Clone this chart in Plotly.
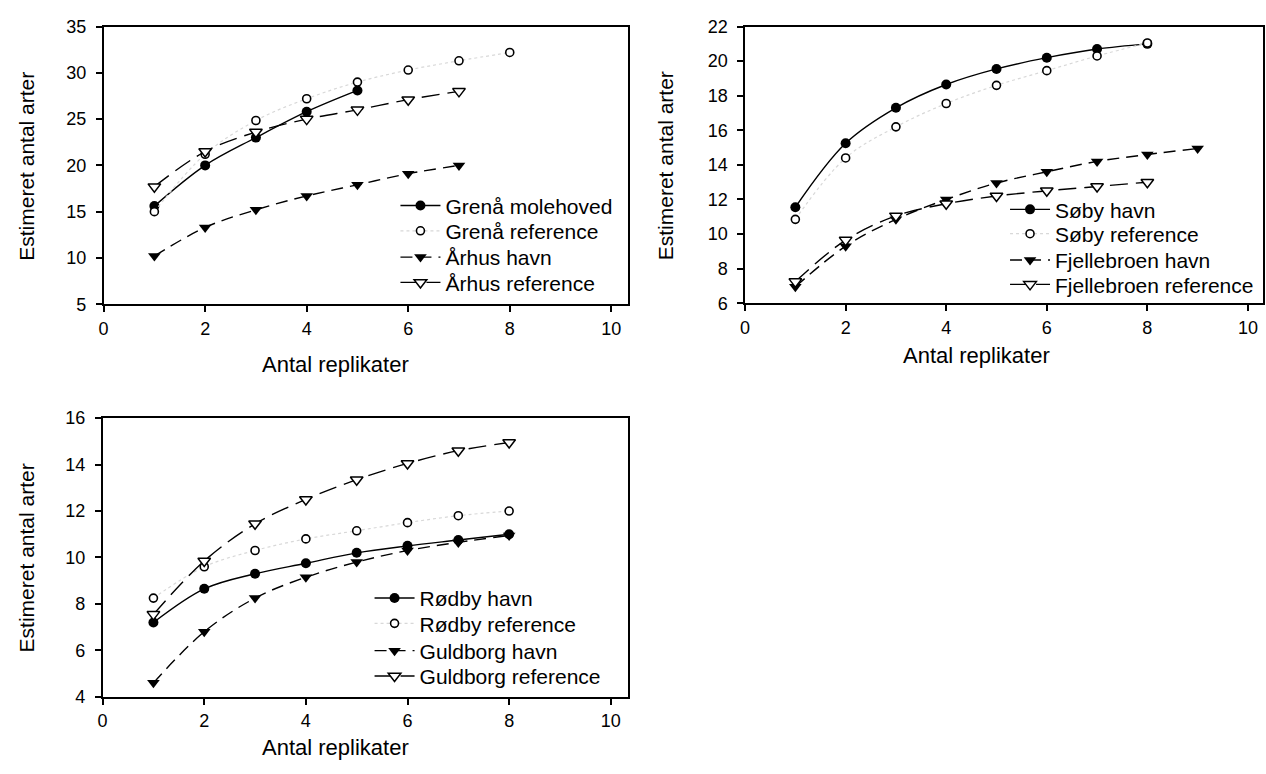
import plotly.graph_objects as go

# ---------------- data ----------------
rep5 = [1, 2, 3, 4, 5]
rep7 = [1, 2, 3, 4, 5, 6, 7]
rep8 = [1, 2, 3, 4, 5, 6, 7, 8]
rep9 = [1, 2, 3, 4, 5, 6, 7, 8, 9]

# Panel 1
grena_mole = [15.6, 20.0, 23.0, 25.8, 28.1]
grena_ref = [15.0, 21.2, 24.85, 27.2, 29.0, 30.3, 31.3, 32.2]
arhus_havn = [10.2, 13.3, 15.2, 16.7, 17.9, 19.1, 20.0]
arhus_ref = [17.7, 21.5, 23.6, 25.0, 26.0, 27.1, 28.0]

# Panel 2
soby_havn = [11.55, 15.25, 17.3, 18.65, 19.55, 20.2, 20.7, 21.0]
soby_ref = [10.85, 14.4, 16.2, 17.55, 18.6, 19.45, 20.3, 21.05]
fjelle_havn = [6.95, 9.3, 10.85, 12.0, 12.95, 13.6, 14.2, 14.6, 14.95]
fjelle_ref = [7.25, 9.65, 11.05, 11.75, 12.2, 12.5, 12.75, 13.0]

# Panel 3
rodby_havn = [7.2, 8.65, 9.3, 9.75, 10.2, 10.5, 10.75, 11.0]
rodby_ref = [8.25, 9.6, 10.3, 10.8, 11.15, 11.5, 11.8, 12.0]
guld_havn = [4.6, 6.8, 8.25, 9.15, 9.8, 10.3, 10.65, 10.95]
guld_ref = [7.55, 9.85, 11.45, 12.5, 13.35, 14.05, 14.6, 14.95]

x_title = "Antal replikater"
y_title = "Estimeret antal arter"

FONT = "Liberation Sans, Arial, Helvetica, sans-serif"
W, H = 1266, 774

fig = go.Figure()

legend_slots = []  # (legend id, text-left px, row-center px)


def add(xs, ys, name, kind, xa, ya, lid):
    if kind == "solid":
        line = dict(color="black", width=1.4, dash="solid", shape="spline")
        marker = dict(symbol="circle", size=10, color="black")
    elif kind == "dotted":
        line = dict(color="#d8d8d8", width=1.2, dash="dot", shape="spline")
        marker = dict(symbol="circle", size=8, color="white",
                      line=dict(color="black", width=1.6))
    elif kind == "dash":
        line = dict(color="black", width=1.4, dash="12px,7px", shape="spline")
        marker = dict(symbol="triangle-down", size=11, color="black")
    else:  # longdash
        line = dict(color="black", width=1.4, dash="18px,8px", shape="spline")
        marker = dict(symbol="triangle-down", size=11, color="white",
                      line=dict(color="black", width=1.5))
    fig.add_trace(go.Scatter(x=xs, y=ys, name=name, mode="lines+markers",
                             line=line, marker=marker, xaxis=xa, yaxis=ya,
                             legend=lid, showlegend=True, cliponaxis=False))


series = [
    # panel 1
    (rep5, grena_mole, "Grenå molehoved", "solid", "x", "y"),
    (rep8, grena_ref, "Grenå reference", "dotted", "x", "y"),
    (rep7, arhus_havn, "Århus havn", "dash", "x", "y"),
    (rep7, arhus_ref, "Århus reference", "longdash", "x", "y"),
    # panel 2
    (rep8, soby_havn, "Søby havn", "solid", "x2", "y2"),
    (rep8, soby_ref, "Søby reference", "dotted", "x2", "y2"),
    (rep9, fjelle_havn, "Fjellebroen havn", "dash", "x2", "y2"),
    (rep8, fjelle_ref, "Fjellebroen reference", "longdash", "x2", "y2"),
    # panel 3
    (rep8, rodby_havn, "Rødby havn", "solid", "x3", "y3"),
    (rep8, rodby_ref, "Rødby reference", "dotted", "x3", "y3"),
    (rep8, guld_havn, "Guldborg havn", "dash", "x3", "y3"),
    (rep8, guld_ref, "Guldborg reference", "longdash", "x3", "y3"),
]

# legend text-left x and row centres (pixels) per panel
legend_x = [446, 1058, 420]
legend_rows = [[201, 227, 254, 280], [205, 230, 257, 282], [604, 630, 658, 684]]

for i, (xs, ys, name, kind, xa, ya) in enumerate(series):
    lid = "legend" if i == 0 else f"legend{i + 1}"
    add(xs, ys, name, kind, xa, ya, lid)
    legend_slots.append((lid, legend_x[i // 4], legend_rows[i // 4][i % 4]))


def xd(a, b):
    return [a / W, b / W]


def yd(top, bottom):
    return [1 - bottom / H, 1 - top / H]


axis_common = dict(showline=True, linecolor="black", linewidth=1.5, mirror=True,
                   ticks="outside", ticklen=6, tickwidth=1.5, tickcolor="black",
                   showgrid=False, zeroline=False,
                   tickfont=dict(family=FONT, size=18, color="black"))

panels = [
    ("xaxis", "yaxis", (99, 625), (17, 302), [0, 10.32], [5, 35], 5, "y", "x"),
    ("xaxis2", "yaxis2", (743, 1263), (17, 301), [0, 10.3], [6, 22], 2, "y2", "x2"),
    ("xaxis3", "yaxis3", (98, 625), (419, 705), [0, 10.33], [4, 16], 2, "y3", "x3"),
]

layout = dict(width=W, height=H, margin=dict(l=0, r=0, t=0, b=0),
              paper_bgcolor="white", plot_bgcolor="white", showlegend=True,
              font=dict(family=FONT, color="black"))
for xk, yk, xdp, ydp, xr, yr, ydt, yanc, xanc in panels:
    layout[xk] = dict(axis_common, domain=xd(*xdp), range=xr, dtick=2, tick0=0,
                      anchor=yanc, ticklabelstandoff=1)
    layout[yk] = dict(axis_common, domain=yd(*ydp), range=yr, dtick=ydt,
                      tick0=yr[0], anchor=xanc, ticklabelstandoff=6)

for lid, tx, ry in legend_slots:
    layout[lid] = dict(bgcolor="rgba(0,0,0,0)", borderwidth=0, xanchor="left",
                       yanchor="middle", itemwidth=40, visible=True,
                       x=(tx - 54) / W, y=1 - ry / H,
                       font=dict(family=FONT, size=21, color="black"))

fig.update_layout(**layout)

ann = []
for cx, cy in [(332, 364), (975, 355), (332, 757)]:
    ann.append(dict(text=x_title, x=cx / W, y=1 - cy / H, xref="paper", yref="paper",
                    showarrow=False, xanchor="center", yanchor="middle",
                    font=dict(family=FONT, size=22, color="black")))
for cx, cy in [(22, 160), (663, 160), (22, 562)]:
    ann.append(dict(text=y_title, x=cx / W, y=1 - cy / H, xref="paper", yref="paper",
                    showarrow=False, xanchor="center", yanchor="middle", textangle=-90,
                    font=dict(family=FONT, size=21, color="black")))
fig.update_layout(annotations=ann)

fig.write_html("out.html")
